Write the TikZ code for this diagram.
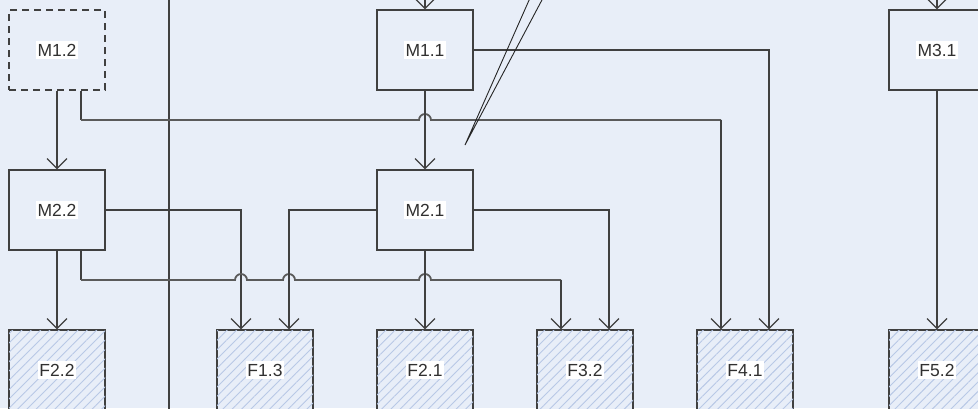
\documentclass[tikz,border=0pt]{standalone}
\usepackage{fontspec}
\setmainfont{Liberation Sans}
\usetikzlibrary{arrows.meta,patterns.meta,calc}
\definecolor{bgc}{HTML}{E8EEF8}
\definecolor{linec}{HTML}{404040}
\definecolor{hopc}{HTML}{5A5A5A}
\definecolor{hatchc}{HTML}{B8C8E6}
\definecolor{txtc}{HTML}{303030}
\tikzset{
  box/.style={draw=linec, line width=1.3pt, minimum width=96pt, minimum height=80pt, inner sep=0pt, fill=bgc},
  dbox/.style={box, dash pattern=on 7pt off 5pt},
  hbox/.style={box, postaction={pattern={Lines[angle=45,distance=6.6pt,line width=0.9pt]}, pattern color=hatchc}},
  lbl/.style={fill=white, text=txtc, inner xsep=1.5pt, inner ysep=3pt, font=\fontsize{17.5}{20}\selectfont},
  conn/.style={draw=linec, line width=1.3pt},
  hopl/.style={draw=hopc, line width=1.8pt},
  arr/.style={conn, -{Straight Barb[length=10pt,width=20pt,line width=1.2pt]}},
  thinl/.style={draw=black!85, line width=0.9pt}
}
\begin{document}
\begin{tikzpicture}[x=1pt,y=-1pt]
\fill[bgc] (0,0) rectangle (978,408);
\useasboundingbox (0,0) rectangle (978,408);
\clip (0,0) rectangle (978,408);
% boxes
\node[dbox] (M12) at (57,50) {};
\node[box] (M11) at (425,50) {};
\node[box] (M31) at (937,50) {};
\node[box] (M22) at (57,210) {};
\node[box] (M21) at (425,210) {};
\node[hbox] (F22) at (57,370) {};
\node[hbox] (F13) at (265,370) {};
\node[hbox] (F21) at (425,370) {};
\node[hbox] (F32) at (585,370) {};
\node[hbox] (F41) at (745,370) {};
\node[hbox] (F52) at (937,370) {};
% free ends
\coordinate (topA) at (425,-10);
\coordinate (topB) at (937,-10);
\coordinate (vt) at (169,-5);
\coordinate (vb) at (169,415);
\coordinate (d1) at (530,-2);
\coordinate (d2) at (543,-2);
\coordinate (d3) at (465,145);
% connectors
\draw[conn] (vt) -- (vb);
\draw[arr] (topA) -- (M11.north);
\draw[arr] (topB) -- (M31.north);
\draw[arr] (M12.south) -- (M22.north);
\draw[conn] ($(M12.south)+(24,0)$) -- (81,120);
\draw[hopl] (81,120) -- (419,120)
   arc[start angle=180,end angle=0,radius=6pt] -- (721,120);
\draw[arr] (721,120) -- ($(F41.north)+(-24,0)$);
\draw[arr] (M11.east) -- (769,50) -- ($(F41.north)+(24,0)$);
\draw[arr] (M11.south) -- (M21.north);
\draw[arr] (M22.east) -- (241,210) -- ($(F13.north)+(-24,0)$);
\draw[arr] (M22.south) -- (F22.north);
\draw[conn] ($(M22.south)+(24,0)$) -- (81,280);
\draw[hopl] (81,280) -- (235,280)
   arc[start angle=180,end angle=0,radius=6pt] -- (283,280)
   arc[start angle=180,end angle=0,radius=6pt] -- (419,280)
   arc[start angle=180,end angle=0,radius=6pt] -- (561,280);
\draw[arr] (561,280) -- ($(F32.north)+(-24,0)$);
\draw[arr] (M21.west) -- (289,210) -- ($(F13.north)+(24,0)$);
\draw[arr] (M21.east) -- (609,210) -- ($(F32.north)+(24,0)$);
\draw[arr] (M21.south) -- (F21.north);
\draw[arr] (M31.south) -- (F52.north);
\draw[thinl] (d1) -- (d3) -- (d2);
% labels
\node[lbl] (lM12) at (M12) {M1.2};
\node[lbl] (lM11) at (M11) {M1.1};
\node[lbl] (lM31) at (M31) {M3.1};
\node[lbl] (lM22) at (M22) {M2.2};
\node[lbl] (lM21) at (M21) {M2.1};
\node[lbl] (lF22) at (F22) {F2.2};
\node[lbl] (lF13) at (F13) {F1.3};
\node[lbl] (lF21) at (F21) {F2.1};
\node[lbl] (lF32) at (F32) {F3.2};
\node[lbl] (lF41) at (F41) {F4.1};
\node[lbl] (lF52) at (F52) {F5.2};
\end{tikzpicture}
\end{document}
